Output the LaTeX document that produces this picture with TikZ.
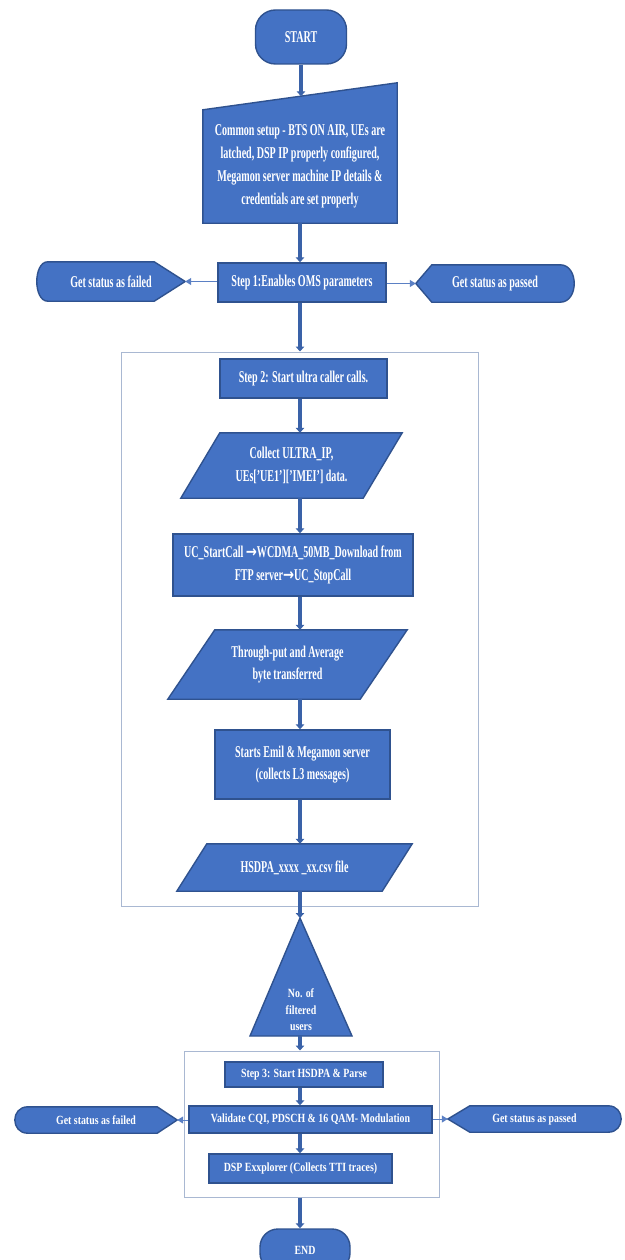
\documentclass[tikz,border=0pt]{standalone}
\usepackage{fontspec}
\setmainfont{Liberation Serif}[FakeStretch=0.61]
\newfontfamily\smallfam{Liberation Serif}[FakeStretch=0.79]
\newfontfamily\arrfam{DejaVu Sans}[FakeStretch=0.8]
\usetikzlibrary{arrows.meta,calc,backgrounds}
\definecolor{boxblue}{HTML}{4472C4}
\definecolor{boxedge}{HTML}{2F528F}
\definecolor{arrowblue}{HTML}{3A62A8}
\definecolor{sideblue}{HTML}{5B80C4}
\definecolor{frameline}{HTML}{A9B8D2}
\newcommand\bigf{\bfseries\fontsize{16.5pt}{22.8pt}\selectfont}
\newcommand\smf{\smallfam\bfseries\fontsize{12.5pt}{16.5pt}\selectfont}
\newcommand\rarr{{\arrfam\bfseries →}}
\tikzset{
  blk/.style={fill=boxblue, draw=boxedge, line width=1.4pt, text=white, font=\bigf, align=center, inner sep=0pt},
  sblk/.style={blk, font=\smf, line width=1.4pt},
  txt/.style={text=white, font=\bigf, align=center, inner sep=0pt},
  stxt/.style={txt, font=\smf},
  shp/.style={fill=boxblue, draw=boxedge, line width=1.4pt},
  frame/.style={draw=frameline, line width=1pt, inner sep=0pt},
  flow/.style={draw=arrowblue, line width=3.2pt, -{Triangle[width=8.5pt,length=5pt]}},
  side/.style={draw=sideblue, line width=1pt, -{Triangle[width=7pt,length=6pt]}},
}
\begin{document}
\begin{tikzpicture}[x=1pt,y=-1pt]
\useasboundingbox (0,0) rectangle (624,1260);
\coordinate (ax) at (300,0);

% top part
\node[blk, rounded corners=20pt, minimum width=91pt, minimum height=54pt] (start) at (301,37) {START};
\node[txt, minimum width=194pt, minimum height=113pt] (mi) at (300,166.5)
  {Common setup - BTS ON AIR, UEs are\\latched, DSP IP properly configured,\\Megamon server machine IP details \&\\credentials are set properly};
\node[blk, minimum width=168pt, minimum height=39pt] (s1) at (302,282.5) {Step 1:Enables OMS parameters};
\node[txt, minimum width=148pt, minimum height=39pt] (f1) at (111,281.5) {Get status as failed};
\node[txt, minimum width=158pt, minimum height=37pt] (p1) at (495,283.5) {Get status as passed};

% container 1
\node[frame, minimum width=357pt, minimum height=554pt] (c1) at (299.5,629) {};
\node[blk, minimum width=167pt, minimum height=39pt] (s2) at (303.5,378.5) {Step 2: Start ultra caller calls.};
\node[txt, minimum width=221pt, minimum height=65pt] (cl) at (291.5,465.5)
  {Collect ULTRA\_IP,\\UEs['UE1']['IMEI'] data.};
\node[blk, minimum width=240pt, minimum height=62pt] (uc) at (293,565)
  {UC\_StartCall \rarr WCDMA\_50MB\_Download from\\FTP server\rarr UC\_StopCall};
\node[txt, minimum width=239pt, minimum height=69pt] (tp) at (287.5,664.5)
  {Through-put and Average\\byte transferred};
\node[blk, minimum width=175pt, minimum height=69pt] (em) at (302.5,764.5)
  {Starts Emil \& Megamon server\\(collects L3 messages)};
\node[txt, minimum width=235pt, minimum height=47pt] (hs) at (294.5,867.5) {HSDPA\_xxxx \_xx.csv file};

% triangle
\coordinate (triapex) at (300,918);
\coordinate (tribl) at (250,1036);
\coordinate (tribr) at (352,1036);
\coordinate (tribase) at (300,1036);
\node[stxt] (tri) at (301,1010) {No. of\\filtered\\users};

% container 2
\node[frame, minimum width=255pt, minimum height=146pt] (c2) at (311.5,1124) {};
\node[sblk, minimum width=158pt, minimum height=25pt] (s3) at (304,1074.5) {Step 3: Start HSDPA \& Parse};
\node[sblk, minimum width=243pt, minimum height=27pt] (va) at (310.5,1119.5) {Validate CQI, PDSCH \& 16 QAM- Modulation};
\node[sblk, minimum width=183pt, minimum height=29pt] (dsp) at (300.5,1168.5) {DSP Exxplorer (Collects TTI traces)};
\node[stxt, minimum width=162pt, minimum height=26pt] (f2) at (96,1120) {Get status as failed};
\node[stxt, minimum width=173pt, minimum height=26pt] (p2) at (534.5,1119) {Get status as passed};
\node[sblk, rounded corners=18pt, minimum width=90pt, minimum height=42pt] (endn) at (305,1250) {END};

% shapes behind texts
\begin{scope}[on background layer]
\fill[white] (0,0) rectangle (624,1260);
\path[shp] (mi.south west) -- (mi.north west) -- ([yshift=27pt]mi.north east) -- (mi.south east) -- cycle;
\path[shp] ([xshift=11pt]f1.north west) -- ([xshift=-31pt]f1.north east) -- (f1.east) -- ([xshift=-31pt]f1.south east) -- ([xshift=11pt]f1.south west)
  .. controls ([xshift=-3.7pt]f1.south west) and ([xshift=-3.7pt]f1.north west) .. ([xshift=11pt]f1.north west) -- cycle;
\path[shp] (p1.west) -- ([xshift=16pt]p1.north west) -- ([xshift=-14pt]p1.north east)
  .. controls ([xshift=4.7pt]p1.north east) and ([xshift=4.7pt]p1.south east) .. ([xshift=-14pt]p1.south east) -- ([xshift=16pt]p1.south west) -- cycle;
\path[shp] ([xshift=39pt]cl.north west) -- (cl.north east) -- ([xshift=-39pt]cl.south east) -- (cl.south west) -- cycle;
\path[shp] ([xshift=47pt]tp.north west) -- (tp.north east) -- ([xshift=-47pt]tp.south east) -- (tp.south west) -- cycle;
\path[shp] ([xshift=30pt]hs.north west) -- (hs.north east) -- ([xshift=-30pt]hs.south east) -- (hs.south west) -- cycle;
\path[shp] (triapex) -- (tribr) -- (tribl) -- cycle;
\path[shp] ([xshift=13pt]f2.north west) -- ([xshift=-20pt]f2.north east) -- (f2.east) -- ([xshift=-20pt]f2.south east) -- ([xshift=13pt]f2.south west)
  .. controls ([xshift=-4.3pt]f2.south west) and ([xshift=-4.3pt]f2.north west) .. ([xshift=13pt]f2.north west) -- cycle;
\path[shp] (p2.west) -- ([xshift=22pt]p2.north west) -- ([xshift=-13pt]p2.north east)
  .. controls ([xshift=4.3pt]p2.north east) and ([xshift=4.3pt]p2.south east) .. ([xshift=-13pt]p2.south east) -- ([xshift=22pt]p2.south west) -- cycle;
\end{scope}

% connectors
\coordinate (mitop) at ($(mi.north west)!0.5!([yshift=27pt]mi.north east)$);
\draw[flow] (start.south) -- (start.south |- mitop);
\draw[flow] (mi.south) -- (mi.south |- s1.north);
\draw[side] (s1.west |- f1.east) -- (f1.east);
\draw[side] (s1.east |- p1.west) -- (p1.west);
\draw[flow] (s1.south -| ax) -- (c1.north -| ax);
\draw[flow] (s2.south -| ax) -- (cl.north -| ax);
\draw[flow] (cl.south -| ax) -- (uc.north -| ax);
\draw[flow] (uc.south -| ax) -- (tp.north -| ax);
\draw[flow] (tp.south -| ax) -- (em.north -| ax);
\draw[flow] (em.south -| ax) -- (hs.north -| ax);
\draw[flow] (hs.south -| ax) -- (triapex);
\draw[flow] (tribase) -- (c2.north -| ax);
\draw[flow] (s3.south -| ax) -- (va.north -| ax);
\draw[flow] (va.south -| ax) -- (dsp.north -| ax);
\draw[side] (va.west |- f2.east) -- (f2.east);
\draw[side] (va.east |- p2.west) -- (p2.west);
\draw[flow] (c2.south -| ax) -- (endn.north -| ax);
\end{tikzpicture}
\end{document}
